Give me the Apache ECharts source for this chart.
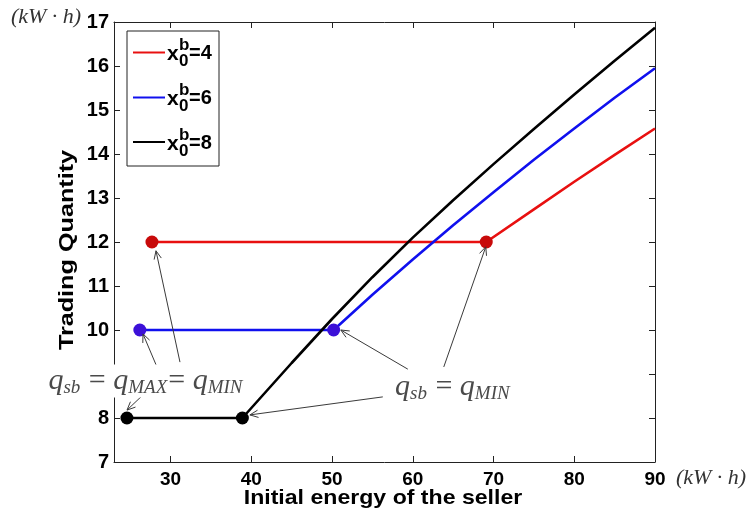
<!DOCTYPE html>
<html>
<head>
<meta charset="utf-8">
<script src="https://cdn.jsdelivr.net/npm/echarts@6/dist/echarts.min.js"></script>
<style>
  html, body { margin: 0; padding: 0; background: #fff; }
  #chart { width: 748px; height: 517px; }
</style>
</head>
<body>
<div id="chart"></div>
<script>
// Trading quantity vs. initial energy of the seller, for three buyer states x0^b
const xTicks = [30, 40, 50, 60, 70, 80, 90];
const yTicks = [7, 8, 9, 10, 11, 12, 13, 14, 15, 16, 17];

const xRed = [27.7, 69.1, 75, 80, 85, 90];
const yRed = [12, 12, 12.74, 13.37, 13.98, 14.58];

const xBlue = [26.2, 50.2, 55, 60, 65, 70, 75, 80, 85, 90];
const yBlue = [10, 10, 10.8, 11.6, 12.38, 13.13, 13.87, 14.58, 15.28, 15.95];

const xBlack = [24.6, 38.9, 45, 50, 55, 60, 65, 70, 75, 80, 85, 90];
const yBlack = [8, 8, 9.25, 10.25, 11.2, 12.1, 12.95, 13.77, 14.57, 15.35, 16.12, 16.87];

const seriesNames = ['4', '6', '8'];

// annotation arrows: [fromX, fromY, toX, toY] in axis units
const arrowsAll = [
  [28.32, 9.16, 26.59, 9.91],
  [27.08, 8.61, 24.61, 8.18],
  [31.17, 9.27, 28.2, 11.8]
];
const arrowsMin = [
  [56.29, 8.48, 39.83, 8.07],
  [59.39, 9.11, 51.09, 10.0],
  [63.84, 9.16, 69.04, 11.89]
];
// annotation text anchors (centre) in axis units
const notes = [
  [26.96, 8.84, 0],
  [64.96, 8.70, 1]
];

const pairs = (xs, ys) => xs.map((x, i) => [x, ys[i]]);
const dots = (xs, ys) => [[xs[0], ys[0]], [xs[1], ys[1]]];

const serif = '"Liberation Serif", "DejaVu Serif", serif';
const noteText = [
  '{q|q}{s|sb}{e| = }{q|q}{s|MAX}{e|= }{q|q}{s|MIN}',
  '{q|q}{s|sb}{e| = }{q|q}{s|MIN}'
];
const noteRich = {
  q: { fontFamily: serif, fontStyle: 'italic', fontSize: 30, fill: '#4a4a4a' },
  s: { fontFamily: serif, fontStyle: 'italic', fontSize: 19, fill: '#4a4a4a', padding: [14, 1, 0, 0] },
  e: { fontFamily: serif, fontSize: 30, fill: '#4a4a4a' }
};

function arrowItem(params, api) {
  const p1 = api.coord([api.value(0), api.value(1)]);
  const p2 = api.coord([api.value(2), api.value(3)]);
  const ang = Math.atan2(p2[1] - p1[1], p2[0] - p1[0]);
  const L = 9, w = 0.42;
  const h1 = [p2[0] - L * Math.cos(ang - w), p2[1] - L * Math.sin(ang - w)];
  const h2 = [p2[0] - L * Math.cos(ang + w), p2[1] - L * Math.sin(ang + w)];
  const st = { stroke: '#3a3a3a', lineWidth: 1, fill: null };
  return {
    type: 'group',
    children: [
      { type: 'line', shape: { x1: p1[0], y1: p1[1], x2: p2[0], y2: p2[1] }, style: st },
      { type: 'polyline', shape: { points: [h1, p2, h2] }, style: st }
    ]
  };
}

function noteItem(params, api) {
  const p = api.coord([api.value(0), api.value(1)]);
  return {
    type: 'text',
    style: {
      text: noteText[api.value(2)],
      rich: noteRich,
      x: p[0], y: p[1],
      align: 'center', verticalAlign: 'middle',
      backgroundColor: '#fff',
      padding: [0, 2, 0, 2]
    }
  };
}

const labelFont = { fontFamily: 'Arial, "Liberation Sans", sans-serif', fontWeight: 'bold', color: '#000' };
const lineAxis = { show: true, lineStyle: { color: '#222', width: 1 } };

const chart = echarts.init(document.getElementById('chart'));

// legend drawn as graphic so the stacked x0^b can be set
const legendColors = ['#e81010', '#1010ee', '#000'];
const legendY = [52.5, 97.5, 142];
const legendGraphic = [{
  type: 'rect', shape: { x: 127, y: 31, width: 92, height: 135 },
  style: { fill: '#fff', stroke: '#222', lineWidth: 1 }, z: 100
}];
seriesNames.forEach((n, i) => {
  const y = legendY[i];
  legendGraphic.push(
    { type: 'line', shape: { x1: 133, y1: y, x2: 165, y2: y }, style: { stroke: legendColors[i], lineWidth: 2 }, z: 101 },
    { type: 'text', x: 167, y: y + 2, style: { text: 'x', font: 'bold 21px Arial, "Liberation Sans"', fill: '#000', verticalAlign: 'middle' }, z: 101 },
    { type: 'text', x: 179, y: y - 7, style: { text: 'b', font: 'bold 17px Arial, "Liberation Sans"', fill: '#000', verticalAlign: 'middle' }, z: 101 },
    { type: 'text', x: 179, y: y + 9, style: { text: '0', font: 'bold 17px Arial, "Liberation Sans"', fill: '#000', verticalAlign: 'middle' }, z: 101 },
    { type: 'text', x: 189, y: y + 1, style: { text: '=' + n, font: 'bold 20px Arial, "Liberation Sans"', fill: '#000', verticalAlign: 'middle' }, z: 101 }
  );
});

const option = {
  animation: false,
  backgroundColor: '#fff',
  grid: { left: 114, right: 93, top: 22, bottom: 55, containLabel: false },
  xAxis: [{
    type: 'value', min: 23, max: 90, position: 'bottom',
    axisLine: lineAxis,
    axisTick: { show: true, inside: true, length: 6, customValues: xTicks, lineStyle: { color: '#222' } },
    axisLabel: Object.assign({ fontSize: 19, margin: 8, customValues: xTicks }, labelFont),
    splitLine: { show: false }
  }, {
    type: 'value', min: 23, max: 90, position: 'top',
    axisLine: lineAxis,
    axisTick: { show: true, inside: true, length: 6, customValues: xTicks, lineStyle: { color: '#222' } },
    axisLabel: { show: false },
    splitLine: { show: false }
  }],
  yAxis: [{
    type: 'value', min: 7, max: 17, position: 'left',
    axisLine: lineAxis,
    axisTick: { show: true, inside: true, length: 6, customValues: yTicks, lineStyle: { color: '#222' } },
    axisLabel: Object.assign({ fontSize: 20, margin: 5, customValues: yTicks }, labelFont),
    splitLine: { show: false }
  }, {
    type: 'value', min: 7, max: 17, position: 'right',
    axisLine: lineAxis,
    axisTick: { show: true, inside: true, length: 6, customValues: yTicks, lineStyle: { color: '#222' } },
    axisLabel: { show: false },
    splitLine: { show: false }
  }],
  series: [
    { name: seriesNames[0], type: 'line', data: pairs(xRed, yRed), showSymbol: false, lineStyle: { color: legendColors[0], width: 2.6 }, z: 3 },
    { name: seriesNames[1], type: 'line', data: pairs(xBlue, yBlue), showSymbol: false, lineStyle: { color: legendColors[1], width: 2.6 }, z: 3 },
    { name: seriesNames[2], type: 'line', data: pairs(xBlack, yBlack), showSymbol: false, lineStyle: { color: legendColors[2], width: 2.6 }, z: 3 },
    { type: 'scatter', data: dots(xRed, yRed), symbolSize: 13, itemStyle: { color: '#c80a0a', opacity: 1 }, z: 4 },
    { type: 'scatter', data: dots(xBlue, yBlue), symbolSize: 13, itemStyle: { color: '#3c10d8', opacity: 1 }, z: 4 },
    { type: 'scatter', data: dots(xBlack, yBlack), symbolSize: 13, itemStyle: { color: '#000', opacity: 1 }, z: 4 },
    { type: 'custom', renderItem: arrowItem, data: arrowsAll.concat(arrowsMin), encode: { x: [0, 2], y: [1, 3] }, z: 5, silent: true, clip: false },
    { type: 'custom', renderItem: noteItem, data: notes, encode: { x: 0, y: 1 }, z: 20, silent: true, clip: false }
  ],
  graphic: legendGraphic.concat([
    { type: 'text', x: 383, y: 498, scaleX: 1.1, style: { text: 'Initial energy of the seller', font: 'bold 21px Arial, "Liberation Sans"', fill: '#000', align: 'center', verticalAlign: 'middle' } },
    { type: 'text', x: 67, y: 250, rotation: Math.PI / 2, scaleX: 1.2, style: { text: 'Trading Quantity', font: 'bold 21px Arial, "Liberation Sans"', fill: '#000', align: 'center', verticalAlign: 'middle' } },
    { type: 'text', x: 46, y: 17, style: { text: '(kW · h)', font: 'italic 22px "Liberation Serif", serif', fill: '#333', align: 'center', verticalAlign: 'middle' } },
    { type: 'text', x: 711, y: 478, style: { text: '(kW · h)', font: 'italic 22px "Liberation Serif", serif', fill: '#333', align: 'center', verticalAlign: 'middle' } }
  ])
};
chart.setOption(option);
</script>
</body>
</html>
